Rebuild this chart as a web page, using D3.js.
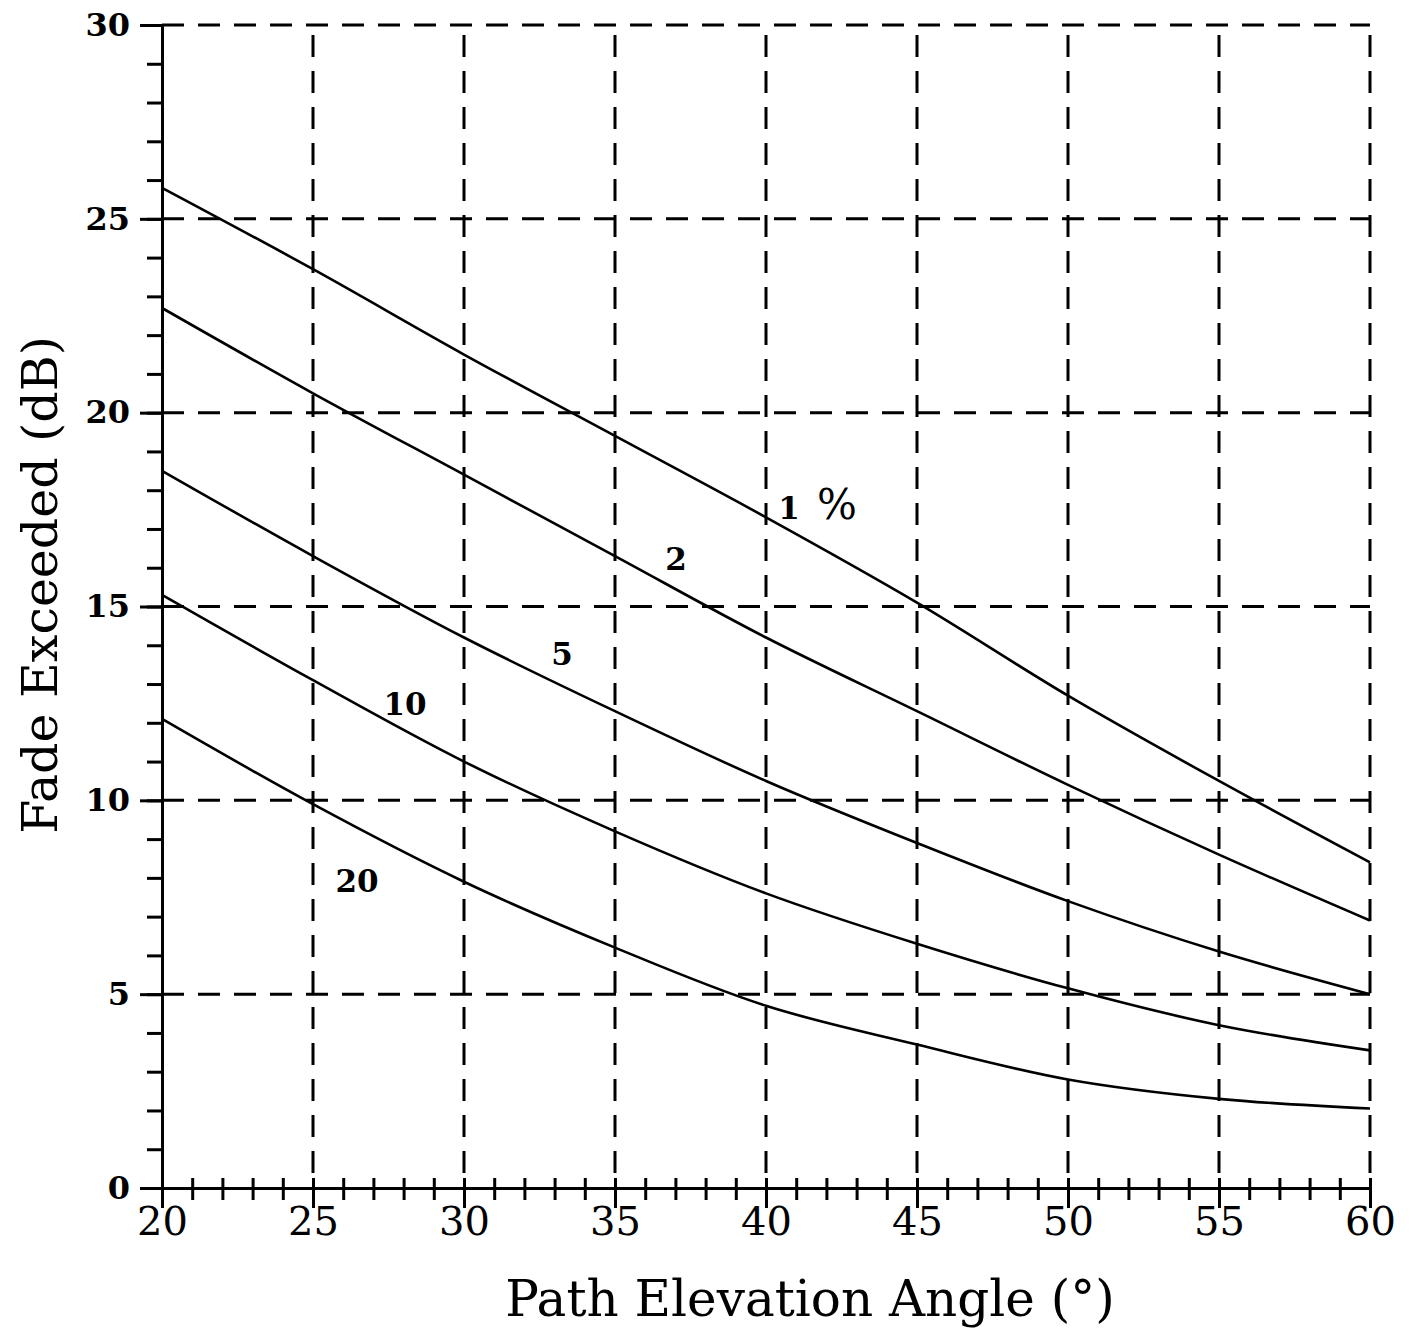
<!DOCTYPE html>
<html>
<head>
<meta charset="utf-8">
<script src="https://cdn.jsdelivr.net/npm/d3@7"></script>
<style>
  body { margin: 0; background: #fff; }
  svg { display: block; }
</style>
</head>
<body>
<div class="chart"></div>
<script>
// elevation angles (deg)
const angles = [20, 25, 30, 35, 40, 45, 50, 55, 60]

// fade exceeded (dB) per percentage of time
const fade1 = [25.8, 23.7, 21.5, 19.4, 17.3, 15.1, 12.7, 10.5, 8.4]
const fade2 = [22.7, 20.5, 18.4, 16.3, 14.2, 12.3, 10.4, 8.6, 6.9]
const fade5 = [18.5, 16.3, 14.2, 12.3, 10.5, 8.9, 7.4, 6.1, 5.0]
const fade10 = [15.3, 13.1, 11.0, 9.2, 7.6, 6.3, 5.15, 4.2, 3.55]
const fade20 = [12.1, 9.9, 7.9, 6.2, 4.7, 3.7, 2.8, 2.3, 2.05]

const seriesNames = ['1', '2', '5', '10', '20']
// label anchor (baseline): [angle, dB]
const labelAt = [[40.76, 17.25], [37.02, 15.94], [33.25, 13.5], [28.05, 12.2], [26.46, 7.63]]

const xTicks = [20, 25, 30, 35, 40, 45, 50, 55, 60]
const yTicks = [0, 5, 10, 15, 20, 25, 30]

const series = [fade1, fade2, fade5, fade10, fade20].map((vals, i) => ({
    name: seriesNames[i],
    label: labelAt[i],
    points: angles.map((a, j) => ({ angle: a, fade: vals[j] }))
}))

const margin = { top: 25, right: 42, bottom: 154, left: 162 }
const W = 1412, H = 1342
const width = W - margin.left - margin.right
const height = H - margin.top - margin.bottom

const x = d3.scaleLinear().domain([20, 60]).range([0, width])
const y = d3.scaleLinear().domain([0, 30]).range([height, 0])

const svg = d3.select('.chart')
    .append('svg')
    .attr('width', W)
    .attr('height', H)
    .append('g')
    .attr('transform', `translate(${margin.left}, ${margin.top})`)

// Grid.
svg.append('g')
    .selectAll('line')
    .data(yTicks.filter(d => d > 0))
    .join('line')
    .attr('x1', 0)
    .attr('x2', width)
    .attr('y1', d => y(d))
    .attr('y2', d => y(d))
    .attr('stroke', '#000')
    .attr('stroke-width', 3)
    .attr('stroke-dasharray', '22,14')

svg.append('g')
    .selectAll('line')
    .data(xTicks.filter(d => d > 20))
    .join('line')
    .attr('x1', d => x(d))
    .attr('x2', d => x(d))
    .attr('y1', 0)
    .attr('y2', height)
    .attr('stroke', '#000')
    .attr('stroke-width', 3)
    .attr('stroke-dasharray', '22,14')
    .attr('stroke-dashoffset', -10)

// Axes.
const yAxis = svg.append('g')
    .call(d3.axisLeft(y).tickValues(yTicks).tickSize(22).tickPadding(10).tickFormat(d3.format('d')))
yAxis.append('g')
    .call(d3.axisLeft(y).tickValues(d3.range(0, 31)).tickSize(15).tickFormat(''))
    .select('.domain').remove()

const xAxis = svg.append('g')
    .attr('transform', `translate(0, ${height})`)
    .call(d3.axisBottom(x).tickValues(xTicks).tickSize(20).tickFormat(d3.format('d')))
xAxis.append('g')
    .call(d3.axisBottom(x).tickValues(d3.range(20, 61)).tickSize(12).tickFormat(''))
    .select('.domain').remove()
xAxis.selectAll('.tick line').attr('y1', -10)

svg.selectAll('.domain').attr('stroke-width', 3)
svg.selectAll('.tick line').attr('stroke-width', 3)
yAxis.selectAll('.tick text')
    .style('font-family', '"DejaVu Serif", serif')
    .style('font-weight', 'bold')
    .style('font-size', '32px')
xAxis.selectAll('.tick text')
    .attr('y', 19)
    .style('font-family', '"DejaVu Serif", serif')
    .style('font-size', '40px')

// Curves.
const line = d3.line()
    .x(d => x(d.angle))
    .y(d => y(d.fade))
    .curve(d3.curveCatmullRom.alpha(0.5))

svg.selectAll('.curve')
    .data(series)
    .join('path')
    .attr('class', 'curve')
    .attr('d', d => line(d.points))
    .attr('fill', 'none')
    .attr('stroke', '#000')
    .attr('stroke-width', 2.6)

svg.selectAll('.curve-label')
    .data(series)
    .join('text')
    .attr('class', 'curve-label')
    .attr('x', d => x(d.label[0]))
    .attr('y', d => y(d.label[1]))
    .attr('text-anchor', 'middle')
    .style('font-family', '"DejaVu Serif", serif')
    .style('font-weight', 'bold')
    .style('font-size', '31px')
    .text(d => d.name)

// the percent sign after the "1"
svg.append('text')
    .attr('x', x(42.35))
    .attr('y', y(17.25))
    .attr('text-anchor', 'middle')
    .style('font-family', '"DejaVu Serif", serif')
    .style('font-size', '42px')
    .text('%')

// Axis titles.
svg.append('text')
    .attr('x', 810 - margin.left)
    .attr('y', height + 128)
    .attr('text-anchor', 'middle')
    .style('font-family', '"DejaVu Serif", serif')
    .style('font-size', '50px')
    .text('Path Elevation Angle (°)')

svg.append('text')
    .attr('transform', `translate(${57 - margin.left}, ${585 - margin.top}) rotate(-90)`)
    .attr('text-anchor', 'middle')
    .style('font-family', '"DejaVu Serif", serif')
    .style('font-size', '49px')
    .text('Fade Exceeded (dB)')
</script>
</body>
</html>
